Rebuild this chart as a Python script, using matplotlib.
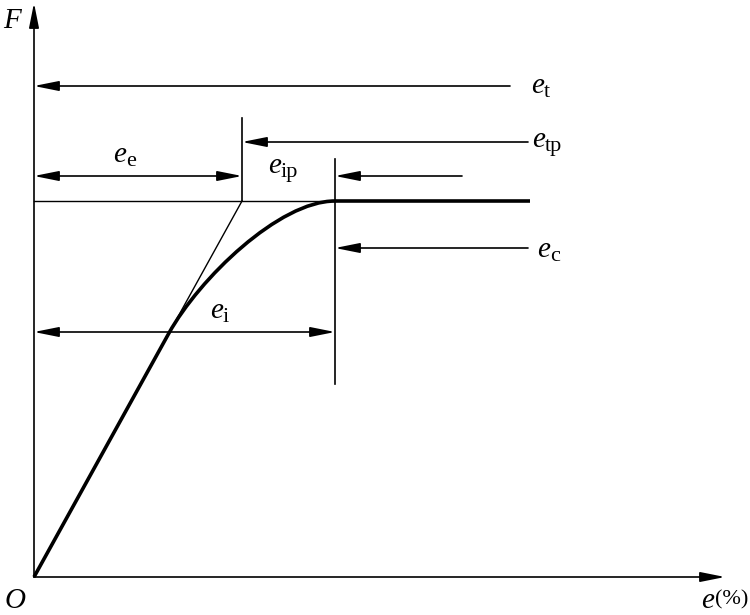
import matplotlib.pyplot as plt
from matplotlib.path import Path
from matplotlib.patches import PathPatch

plt.rcParams['font.family'] = ['Liberation Serif', 'DejaVu Serif']

# diagram coordinates: origin at O, x = strain e, y = force F (pixel-like units)
F_level = 376
e_e = 208          # end of the elastic tangent line
e_i = 301          # where the curve reaches F_level
e_end = 496        # end of the plateau
x_axis_end = 691
y_axis_end = 574

# curve: straight part from O, then a cubic Bezier to the plateau
curve_x = [0, 135, 165, 245, e_i]
curve_y = [0, 244, 298, F_level, F_level]

# dimension arrows: (y, x_from, x_to, style)
arrow_y = [491, 435, 401, 401, 329, 245]
arrow_x0 = [476, 494, 0, 428, 494, 0]
arrow_x1 = [0, e_e, e_e, e_i, e_i, e_i]
arrow_style = ['-|>', '-|>', '<|-|>', '-|>', '-|>', '<|-|>']

# vertical marker lines: (x, y_bottom, y_top)
vline_x = [e_e, e_i]
vline_y0 = [F_level, 193]
vline_y1 = [459, 418]

# labels e_sub: subscript text and baseline position of the italic e
label_sub = ['t', 'tp', 'e', 'ip', 'c', 'i']
label_x = [497, 498, 79, 234, 503, 176]
label_y = [484, 430, 415, 404, 320, 259]

fig = plt.figure(figsize=(7.5, 6.15), dpi=100)
ax = fig.add_axes([0, 0, 1, 1])
ax.set_xlim(-34, 716)
ax.set_ylim(-38, 577)
ax.axis('off')

lw = 1.2
head = ',head_length=1.5,head_width=0.3'
# axes with arrows
for tip in [(x_axis_end, 0), (0, y_axis_end)]:
    ax.annotate('', xy=tip, xytext=(0, 0),
                arrowprops=dict(arrowstyle='-|>' + head, mutation_scale=10,
                                color='black', lw=lw, shrinkA=0, shrinkB=0))

# tangent line and plateau lines
ax.plot([0, e_e], [0, F_level], color='black', lw=1.0)
ax.plot([0, e_i], [F_level, F_level], color='black', lw=1.0)
ax.plot([e_i, e_end], [F_level, F_level], color='black', lw=2.6,
        solid_capstyle='butt')

# curve
verts = list(zip(curve_x, curve_y))
codes = [Path.MOVETO, Path.LINETO, Path.CURVE4, Path.CURVE4, Path.CURVE4]
ax.add_patch(PathPatch(Path(verts, codes), fill=False, lw=2.6,
                       edgecolor='black', capstyle='butt', joinstyle='round'))

for x, y0, y1 in zip(vline_x, vline_y0, vline_y1):
    ax.plot([x, x], [y0, y1], color='black', lw=lw)

for y, x0, x1, st in zip(arrow_y, arrow_x0, arrow_x1, arrow_style):
    ax.annotate('', xy=(x1, y), xytext=(x0, y),
                arrowprops=dict(arrowstyle=st + head, mutation_scale=10,
                                color='black', lw=lw, shrinkA=0, shrinkB=0))

for s, x, y in zip(label_sub, label_x, label_y):
    ax.text(x, y, 'e', fontsize=21, style='italic', ha='left', va='baseline')
    ax.text(x + 13, y - 4, s, fontsize=16, ha='left', va='baseline')

ax.text(-31, 549, 'F', fontsize=21, style='italic', ha='left', va='baseline')
ax.text(-29, -31, 'O', fontsize=21, style='italic', ha='left', va='baseline')
ax.text(667, -31, 'e', fontsize=21, style='italic', ha='left', va='baseline')
ax.text(681, -27, '(%)', fontsize=16, ha='left', va='baseline')

fig.savefig('out.png', dpi=100)
